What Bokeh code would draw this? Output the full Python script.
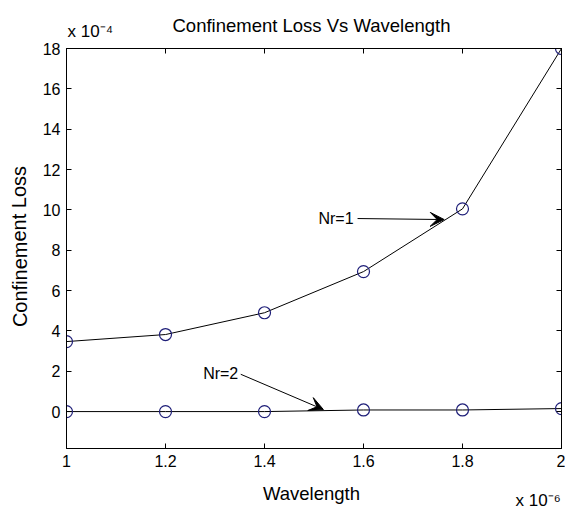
from bokeh.plotting import figure
from bokeh.models import Range1d, FixedTicker, LinearAxis, Label, Arrow, VeeHead
from bokeh.embed import file_html
from bokeh.resources import INLINE

# Data (wavelength in units of 1e-6, loss in units of 1e-4)
wavelength = [1.0, 1.2, 1.4, 1.6, 1.8, 2.0]
loss_nr1 = [3.47, 3.82, 4.9, 6.94, 10.05, 18.0]
loss_nr2 = [0.0, 0.0, 0.0, 0.08, 0.08, 0.15]
x_ticks = [1.0, 1.2, 1.4, 1.6, 1.8, 2.0]
x_tick_labels = ["1", "1.2", "1.4", "1.6", "1.8", "2"]
y_ticks = [0, 2, 4, 6, 8, 10, 12, 14, 16, 18]
y_tick_labels = ["0", "2", "4", "6", "8", "10", "12", "14", "16", "18"]

FONT = "Liberation Sans"

p = figure(width=565, height=510, output_backend="svg", toolbar_location=None,
           x_range=Range1d(1.0, 2.0), y_range=Range1d(-1.83, 18.0),
           min_border_left=66, min_border_right=4, min_border_top=48, min_border_bottom=62)
p.background_fill_color = "white"
p.border_fill_color = "white"
p.outline_line_color = "black"
p.xgrid.visible = False
p.ygrid.visible = False

bottom = p.below[0]
left = p.left[0]
bottom.ticker = FixedTicker(ticks=x_ticks)
bottom.major_label_overrides = dict(zip(x_ticks, x_tick_labels))
left.ticker = FixedTicker(ticks=y_ticks)
left.major_label_overrides = dict(zip(y_ticks, y_tick_labels))

right = LinearAxis(ticker=FixedTicker(ticks=y_ticks),
                   major_label_overrides={t: "" for t in y_ticks})
top = LinearAxis(ticker=FixedTicker(ticks=x_ticks),
                 major_label_overrides={t: "" for t in x_ticks})
p.add_layout(right, "right")
p.add_layout(top, "above")

for ax in [bottom, left, right, top]:
    ax.major_tick_in = 5
    ax.major_tick_out = 0
    ax.minor_tick_in = 0
    ax.minor_tick_out = 0
    ax.axis_line_color = "black"
    ax.major_tick_line_color = "black"
    ax.major_label_text_font = FONT
    ax.major_label_text_font_size = "16px"
    ax.major_label_text_color = "black"
bottom.major_label_standoff = 6
left.major_label_standoff = 6
right.major_label_standoff = 0
top.major_label_standoff = 0

for ys in [loss_nr1, loss_nr2]:
    p.line(wavelength, ys, line_color="black", line_width=1)
    p.scatter(wavelength, ys, marker="circle", size=12, fill_color=None,
              line_color="#1e1e78", line_width=1.2)

def mk(x, y, t, size="16px", align="left", baseline="middle", angle=0, units="data"):
    return Label(x=x, y=y, text=t, text_font=FONT, text_font_size=size,
                 text_align=align, text_baseline=baseline, angle=angle,
                 x_units=units, y_units=units, text_color="black")

# texts outside the frame, placed in side panels so they are not clipped
p.add_layout(mk(245, 12.5, "Confinement Loss Vs Wavelength", size="18.5px", align="center",
                baseline="bottom", units="screen"), "above")
p.add_layout(mk(1, -13.6, "x 10\u207b\u2074", size="17px", baseline="bottom", units="screen"), "above")
p.add_layout(mk(245, 8, "Wavelength", size="18.5px", align="center", baseline="top", units="screen"), "below")
p.add_layout(mk(449, 19, "x 10\u207b\u2076", size="17px", baseline="top", units="screen"), "below")
p.add_layout(mk(2, 202, "Confinement Loss", size="20px", align="center", angle=1.5708, units="screen"), "left")

p.add_layout(mk(1.580, 9.57, "Nr=1", align="right"))
p.add_layout(mk(1.347, 1.88, "Nr=2", align="right"))

p.add_layout(Arrow(end=VeeHead(size=14, fill_color="black", line_color="black"),
                   x_start=1.588, y_start=9.57, x_end=1.763, y_end=9.52,
                   line_color="black", line_width=1))
p.add_layout(Arrow(end=VeeHead(size=14, fill_color="black", line_color="black"),
                   x_start=1.352, y_start=1.85, x_end=1.519, y_end=0.1,
                   line_color="black", line_width=1))

open("out.html", "w").write(file_html(p, INLINE))
